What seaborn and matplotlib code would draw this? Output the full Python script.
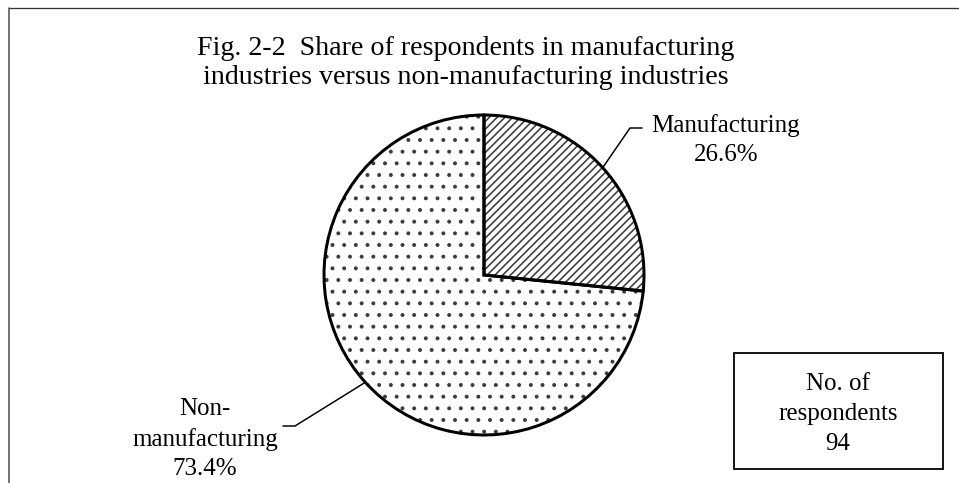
import matplotlib

matplotlib.use("Agg")

import matplotlib.pyplot as plt
import numpy as np
import seaborn as sns
from matplotlib.lines import Line2D
from matplotlib.patches import Rectangle

# Data
categories = ["Manufacturing", "Non-\nmanufacturing"]
shares = [26.6, 73.4]
hatches = ["///", "."]
n_respondents = 94
title = ("Fig. 2-2  Share of respondents in manufacturing\n"
         "industries versus non-manufacturing industries")

W, H = 959, 483
DPI = 70  # hatch spacing scales with dpi, 70 matches the reference pattern


def pt(px):
    # pixel size -> points at the chosen dpi
    return px * 72 / DPI


sns.set_theme(style="white")
plt.rcParams["font.family"] = ["Liberation Serif", "DejaVu Serif"]
plt.rcParams["hatch.linewidth"] = pt(1.6)

fig = plt.figure(figsize=(W / DPI, H / DPI), dpi=DPI)


def fx(px):
    return px / W


def fy(py):
    return 1 - py / H


# Pie axes: centre (484, 275) px, radius 160 px
cx, cy, r = 484, 275, 160
ax = fig.add_axes([fx(cx - r), fy(cy + r), 2 * r / W, 2 * r / H])

wedges, _ = ax.pie(
    shares,
    startangle=90,
    counterclock=False,
    colors=["white", "white"],
    wedgeprops=dict(edgecolor="#3c3c3c", linewidth=0),
)
for w, h in zip(wedges, hatches):
    w.set_hatch(h)

# Outline overlay
ax.pie(
    shares,
    startangle=90,
    counterclock=False,
    colors=["none", "none"],
    wedgeprops=dict(edgecolor="black", linewidth=pt(3)),
)
ax.set_xlim(-1, 1)
ax.set_ylim(-1, 1)
ax.set_aspect("equal")
ax.axis("off")


def to_data(px, py):
    return (px - cx) / r, (cy - py) / r


# Leader lines (stub near label -> bend -> wedge mid-angle on rim)
label_pos = [(726, 140), (205, 439)]
stubs = [((642, 128), (630, 128)), ((283, 426), (295, 426))]
for w, (p0, p1) in zip(wedges, stubs):
    mid = np.deg2rad((w.theta1 + w.theta2) / 2)
    rim = (np.cos(mid), np.sin(mid))
    a = to_data(*p0)
    b = to_data(*p1)
    ax.plot([a[0], b[0], rim[0]], [a[1], b[1], rim[1]],
            color="black", lw=pt(1.5), clip_on=False, zorder=5)

for (px, py), cat, s in zip(label_pos, categories, shares):
    fig.text(fx(px), fy(py), f"{cat}\n{s:.1f}%", ha="center", va="center",
             fontsize=pt(25), linespacing=1.42, color="black")

# Title
fig.text(fx(466), fy(63), title, ha="center", va="center",
         fontsize=pt(28), linespacing=1.25, color="black")

# Respondents box
box = Rectangle((fx(734), fy(469)), fx(943) - fx(734), fy(353) - fy(469),
                transform=fig.transFigure, fill=False, edgecolor="black",
                lw=pt(1.8))
fig.add_artist(box)
fig.text(fx(838), fy(414), f"No. of\nrespondents\n{n_respondents}",
         ha="center", va="center", fontsize=pt(25), linespacing=1.48,
         color="black")

# Outer frame (top and left edges)
fig.add_artist(Line2D([fx(9), 1], [fy(8), fy(8)], transform=fig.transFigure,
                      color="#333333", lw=pt(1.3)))
fig.add_artist(Line2D([fx(9), fx(9)], [fy(8), 0], transform=fig.transFigure,
                      color="#555555", lw=pt(1.6)))

fig.savefig("out.png", dpi=DPI)
